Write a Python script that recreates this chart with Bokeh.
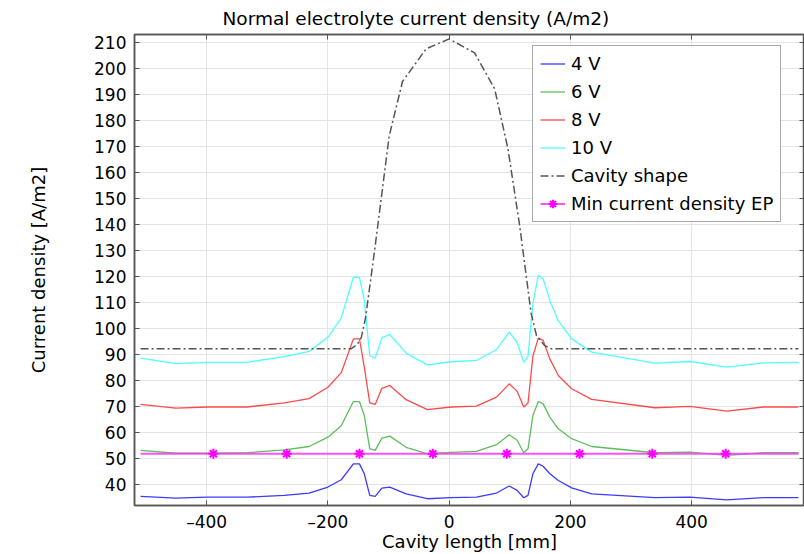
from bokeh.plotting import figure
from bokeh.models import LinearAxis, Range1d, FixedTicker, Legend, LegendItem
from bokeh.embed import file_html
from bokeh.resources import INLINE

# ---- data ----
x_mm = [-509, -451, -399, -333, -272, -231, -200, -178, -158, -148, -140, -131, -122, -111, -98, -71, -36, 3,
        45, 78, 99, 112, 123, 130, 138, 147, 155, 166, 180, 202, 235, 339, 397, 458, 518, 576]
j_4v = [35.4, 34.7, 35.1, 35.1, 35.8, 36.7, 39.0, 41.8, 47.9, 47.9, 44.1, 35.8, 35.4, 38.6, 39.0, 36.4, 34.5, 34.9,
        35.1, 36.7, 39.4, 37.7, 34.9, 35.8, 44.1, 47.9, 47.0, 44.1, 41.5, 38.7, 36.4, 34.9, 35.1, 34.1, 34.9, 34.9]
j_6v = [53.1, 52.0, 52.0, 52.2, 53.3, 54.6, 58.2, 62.6, 71.9, 71.9, 66.5, 53.7, 53.1, 57.8, 58.6, 54.3, 51.8, 52.3,
        52.7, 55.3, 59.1, 57.0, 52.2, 53.7, 66.5, 71.9, 71.0, 65.9, 61.4, 57.6, 54.6, 52.2, 52.4, 51.2, 52.2, 52.2]
j_8v = [70.8, 69.4, 69.8, 69.8, 71.4, 73.0, 77.4, 83.0, 96.0, 96.0, 85.1, 71.4, 70.8, 77.0, 78.1, 72.6, 68.8, 69.8,
        70.1, 73.6, 78.7, 75.9, 69.8, 71.3, 89.3, 96.3, 95.4, 88.3, 81.9, 76.8, 72.7, 69.5, 70.0, 68.2, 69.8, 69.8]
j_10v = [88.6, 86.5, 87.0, 87.0, 89.2, 91.2, 96.6, 104.1, 119.7, 119.7, 110.8, 89.6, 88.6, 96.4, 97.7, 90.5, 86.0, 87.2,
         87.7, 91.9, 98.6, 94.7, 87.0, 89.2, 109.5, 120.4, 119.1, 110.8, 103.0, 96.0, 90.9, 86.7, 87.3, 85.1, 86.8, 87.0]

cavity_x = [-509, -162, -152, -145, -138, -123, -99, -77, -38, 0, 42, 75, 97, 116, 135, 144, 157, 168, 576]
cavity_y = [92.2, 92.2, 93.8, 96.5, 104.0, 130.0, 174.0, 195.0, 207.6, 211.4, 206.0, 192.2, 169.0, 140.0, 106.0,
            97.3, 93.5, 92.2, 92.2]

ep_x = [-509, 576]
ep_level = 51.8
ep_marker_x = [-389, -268, -148, -27, 95, 215, 335, 456]

x_ticks = [-400, -200, 0, 200, 400]
y_ticks = list(range(40, 211, 10))

FONT = "DejaVu Sans"
FRAME = "#555555"

p = figure(width=804, height=554, output_backend="svg", toolbar_location=None,
           x_range=Range1d(-519, 586), y_range=Range1d(31.9, 213.1),
           min_border_left=134, min_border_right=0, min_border_top=34, min_border_bottom=49)

p.title.text = "Normal electrolyte current density (A/m2)"
p.title.text_font = FONT
p.title.text_font_size = "18.5px"
p.title.text_font_style = "normal"
p.title.text_color = "black"
p.title.align = "left"
p.title.offset = 88
p.title.standoff = 11

p.outline_line_color = FRAME
p.outline_line_width = 1.5
p.background_fill_color = "white"

# lines
r4 = p.line(x_mm, j_4v, line_color="#3b3bff", line_width=1.3)
r6 = p.line(x_mm, j_6v, line_color="#5cbf5c", line_width=1.3)
r8 = p.line(x_mm, j_8v, line_color="#ff4a4a", line_width=1.3)
r10 = p.line(x_mm, j_10v, line_color="#4dffff", line_width=1.3)
rc = p.line(cavity_x, cavity_y, line_color="#555555", line_width=1.5, line_dash="8 3 2 3")
re = p.line(ep_x, [ep_level] * len(ep_x), line_color="#ff33ff", line_width=2, line_alpha=0.85)
rm = p.scatter(ep_marker_x, [ep_level] * len(ep_marker_x), marker="asterisk", size=10,
               line_color="#ff00ff", line_width=2, fill_color=None)

# axes styling
for ax in (p.xaxis[0], p.yaxis[0]):
    ax.axis_line_color = FRAME
    ax.axis_line_width = 1.5
    ax.major_tick_line_color = FRAME
    ax.major_tick_in = 5
    ax.major_tick_out = 0
    ax.minor_tick_line_color = None
    ax.major_label_text_font = FONT
    ax.major_label_text_font_size = "17px"
    ax.major_label_text_color = "black"
    ax.axis_label_text_font = FONT
    ax.axis_label_text_font_size = "18px"
    ax.axis_label_text_font_style = "normal"
    ax.axis_label_text_color = "black"

p.xaxis[0].ticker = FixedTicker(ticks=x_ticks)
p.yaxis[0].ticker = FixedTicker(ticks=y_ticks)
p.xaxis[0].major_label_overrides = {-400: "\u2013400", -200: "\u2013200"}
p.xaxis.axis_label = "Cavity length [mm]"
p.yaxis.axis_label = "Current density [A/m2]"
p.xaxis[0].major_label_standoff = 6
p.xaxis[0].axis_label_standoff = -4
p.yaxis[0].major_label_standoff = 8
p.yaxis[0].axis_label_standoff = 42

# mirror axes (ticks only)
top = LinearAxis(ticker=FixedTicker(ticks=x_ticks))
right = LinearAxis(ticker=FixedTicker(ticks=y_ticks))
for ax in (top, right):
    ax.axis_line_color = FRAME
    ax.axis_line_width = 1.5
    ax.major_tick_line_color = FRAME
    ax.major_tick_in = 5
    ax.major_tick_out = 0
    ax.minor_tick_line_color = None
    ax.major_label_text_font_size = "0px"
    ax.major_label_standoff = 0
p.add_layout(top, "above")
p.add_layout(right, "right")

# grid
p.xgrid.ticker = FixedTicker(ticks=x_ticks)
p.ygrid.ticker = FixedTicker(ticks=y_ticks)
p.grid.grid_line_color = "#e4e4e4"
p.grid.grid_line_width = 1

legend = Legend(items=[
    LegendItem(label="4 V", renderers=[r4]),
    LegendItem(label="6 V", renderers=[r6]),
    LegendItem(label="8 V", renderers=[r8]),
    LegendItem(label="10 V", renderers=[r10]),
    LegendItem(label="Cavity shape", renderers=[rc]),
    LegendItem(label="Min current density EP", renderers=[re, rm]),
], location=(398, 283))
legend.margin = 0
legend.padding = 7
legend.spacing = 7
legend.glyph_width = 25
legend.glyph_height = 21
legend.label_height = 21
legend.label_standoff = 6
legend.label_text_font = FONT
legend.label_text_font_size = "18px"
legend.label_text_color = "black"
legend.border_line_color = FRAME
legend.border_line_width = 1.5
legend.background_fill_alpha = 1.0
p.add_layout(legend)

open("out.html", "w").write(file_html(p, INLINE))
